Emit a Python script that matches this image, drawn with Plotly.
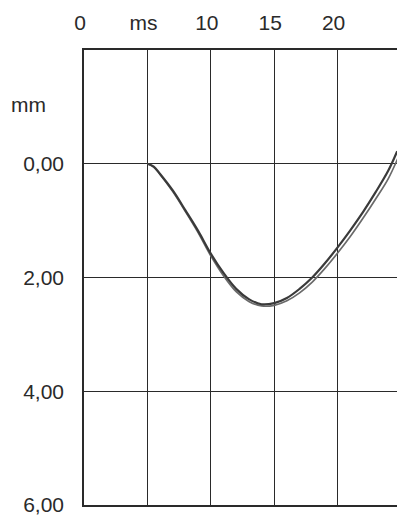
import plotly.graph_objects as go

# time in ms, displacement in mm (positive downward)
t_a = [5.0, 5.5, 6.0, 7.0, 8.0, 9.0, 10.0, 11.0, 12.0, 13.0, 14.0, 15.0, 16.0, 17.0, 18.0, 19.0, 20.0, 21.0, 22.0, 23.0, 24.0, 24.7]
d_a = [0.00, 0.05, 0.18, 0.47, 0.82, 1.18, 1.58, 1.92, 2.20, 2.38, 2.47, 2.45, 2.36, 2.20, 2.00, 1.75, 1.47, 1.17, 0.85, 0.50, 0.12, -0.22]
t_b = [5.0, 5.5, 6.0, 7.0, 8.0, 9.0, 10.0, 11.0, 12.0, 13.0, 14.0, 15.0, 16.0, 17.0, 18.0, 19.0, 20.0, 21.0, 22.0, 23.0, 24.0, 24.8]
d_b = [0.00, 0.06, 0.19, 0.49, 0.84, 1.21, 1.62, 1.97, 2.25, 2.42, 2.50, 2.49, 2.41, 2.27, 2.08, 1.84, 1.57, 1.28, 0.96, 0.62, 0.26, -0.12]

x_ticks = [0, 5, 10, 15, 20]
x_labels = ["0", "ms", "10", "15", "20"]
y_ticks = [0, 2, 4, 6]
y_labels = ["0,00", "2,00", "4,00", "6,00"]

FONT = "Liberation Sans, Arial, sans-serif"

fig = go.Figure()
fig.add_trace(go.Scatter(x=t_b, y=d_b, mode="lines",
                         line=dict(color="#6a6a6a", width=1.7, shape="spline"),
                         showlegend=False))
fig.add_trace(go.Scatter(x=t_a, y=d_a, mode="lines",
                         line=dict(color="#3a3a3a", width=2.2, shape="spline"),
                         showlegend=False))

fig.update_layout(
    width=397, height=510,
    margin=dict(l=76, r=2, t=42, b=8),
    paper_bgcolor="white", plot_bgcolor="white",
    font=dict(family=FONT, size=21, color="#2a2a2a"),
    xaxis=dict(side="top", range=[0, 25], tickvals=x_ticks, ticktext=x_labels,
               showgrid=True, gridcolor="#2a2a2a", gridwidth=1.4,
               showline=True, linecolor="#2a2a2a", linewidth=1.6, mirror=True,
               ticks="outside", ticklen=10, tickcolor="rgba(0,0,0,0)",
               ticklabelshift=-4, zeroline=False, ticklabeloverflow="allow"),
    yaxis=dict(range=[6, -2], tickvals=y_ticks, ticktext=y_labels,
               showgrid=True, gridcolor="#2a2a2a", gridwidth=1.4,
               showline=True, linecolor="#2a2a2a", linewidth=1.6, mirror=True,
               ticks="outside", ticklen=14, tickcolor="rgba(0,0,0,0)",
               zeroline=False, ticklabeloverflow="allow"),
    annotations=[dict(text="mm", xref="paper", yref="y", x=-0.175, y=-1.04,
                      xanchor="center", yanchor="middle", showarrow=False,
                      font=dict(family=FONT, size=21, color="#2a2a2a"))],
)

fig.write_html("out.html")
